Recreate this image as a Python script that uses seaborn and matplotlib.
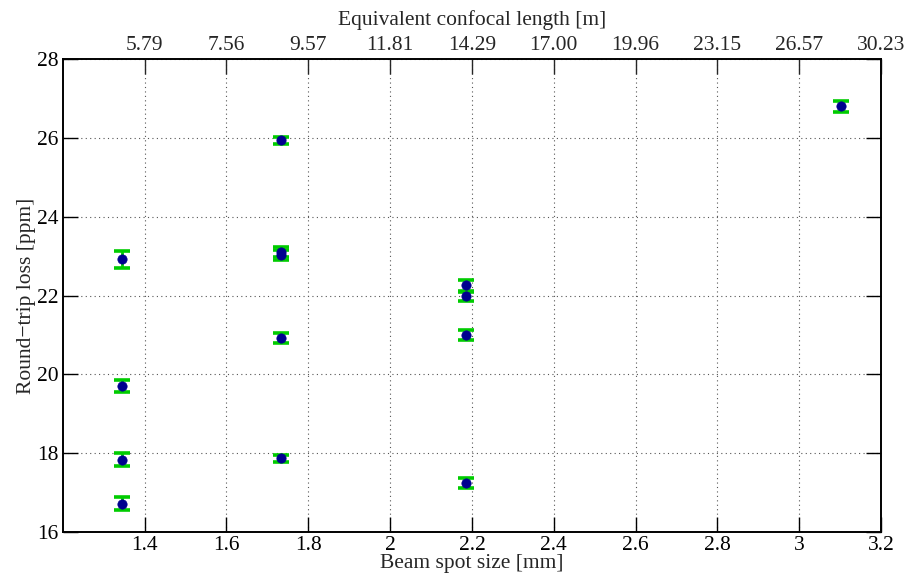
import matplotlib
matplotlib.use("Agg")
from matplotlib import pyplot as plt
import seaborn as sns
import pandas as pd

# beam spot size [mm] per measurement
spot_size = [1.344, 1.344, 1.344, 1.344,
             1.734, 1.734, 1.734, 1.734, 1.734,
             2.186, 2.186, 2.186, 2.186,
             3.102]
# round-trip loss [ppm]
loss = [22.92, 19.70, 17.84, 16.72,
        25.94, 23.11, 23.03, 20.92, 17.87,
        22.26, 21.98, 21.01, 17.25,
        26.81]
loss_err = [0.22, 0.15, 0.16, 0.16,
            0.08, 0.13, 0.13, 0.12, 0.09,
            0.14, 0.11, 0.13, 0.13,
            0.14]

bottom_ticks = [1.4, 1.6, 1.8, 2.0, 2.2, 2.4, 2.6, 2.8, 3.0, 3.2]
bottom_labels = ["1.4", "1.6", "1.8", "2", "2.2", "2.4", "2.6", "2.8", "3", "3.2"]
top_labels = ["5.79", "7.56", "9.57", "11.81", "14.29", "17.00",
              "19.96", "23.15", "26.57", "30.23"]
y_ticks = [16, 18, 20, 22, 24, 26, 28]

df = pd.DataFrame({"spot": spot_size, "loss": loss, "err": loss_err})

sns.set_style("ticks")
plt.rcParams["font.family"] = ["Liberation Serif", "DejaVu Serif"]
plt.rcParams["font.size"] = 15.5

fig = plt.figure(figsize=(9.11, 5.86), dpi=100)
ax = fig.add_axes([0.069, 0.092, 0.898, 0.807])

ax.errorbar(df["spot"], df["loss"], yerr=df["err"], fmt="none",
            ecolor="#00cc00", elinewidth=2.0, capsize=5.5, capthick=2.6, zorder=2)
sns.scatterplot(data=df, x="spot", y="loss", ax=ax, color="#00008f",
                s=45, edgecolor="#00008f", linewidth=0.5, zorder=3)

ax.set_xlim(1.2, 3.2)
ax.set_ylim(16, 28)
ax.set_xticks(bottom_ticks)
ax.set_xticklabels(bottom_labels)
ax.set_yticks(y_ticks)
ax.set_xlabel("Beam spot size [mm]", labelpad=-1)
ax.set_ylabel("Round\u2212trip loss [ppm]", labelpad=1)
ax.grid(True, linestyle=(0, (1, 3)), color="#555555", linewidth=0.8)
ax.tick_params(direction="in", length=11, width=1.0, right=True,
               labelsize=15.5, pad=3, colors="black")

top = ax.twiny()
top.set_xlim(ax.get_xlim())
top.set_xticks(bottom_ticks)
top.set_xticklabels(top_labels)
top.set_xlabel("Equivalent confocal length [m]", labelpad=8)
top.tick_params(direction="in", length=11, width=1.0, labelsize=15.5, pad=3)

for a in (ax, top):
    for s in a.spines.values():
        s.set_linewidth(1.2)
        s.set_color("black")

fig.savefig("out.png", dpi=100)
